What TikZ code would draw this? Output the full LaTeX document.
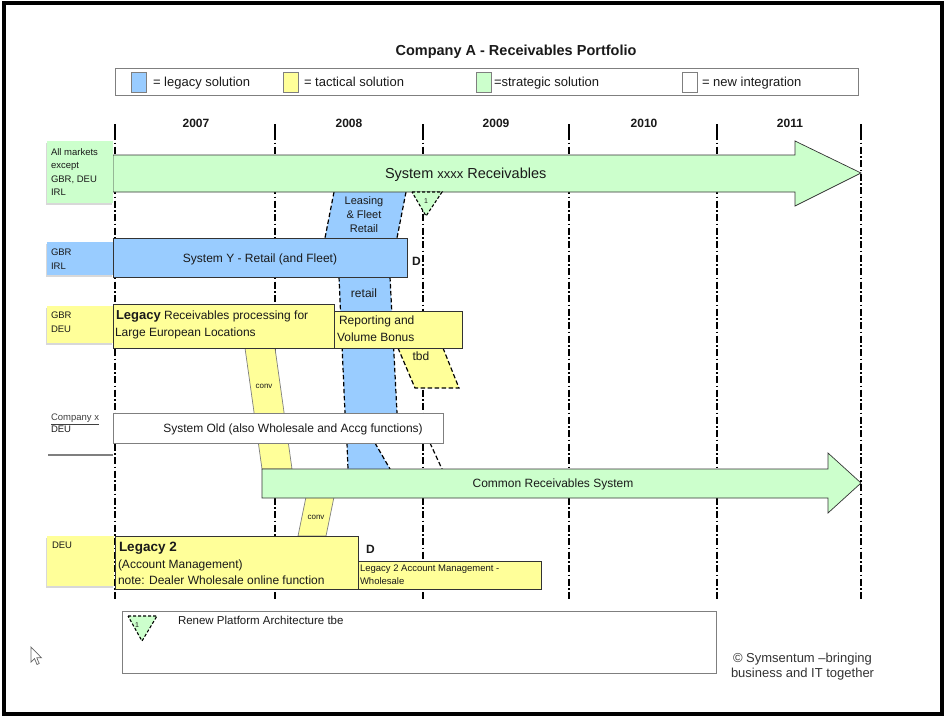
\documentclass[tikz,border=0pt]{standalone}
\usepackage{fontspec}
\setmainfont{Liberation Sans}
\usetikzlibrary{shadows}
\definecolor{lgreen}{HTML}{CCFFCC}
\definecolor{lblue}{HTML}{99CCFF}
\definecolor{lyellow}{HTML}{FFFF99}
\definecolor{edgec}{HTML}{333333}
\definecolor{textc}{HTML}{1A1A1A}
\definecolor{legc}{HTML}{7F7F7F}
\begin{document}
\begin{tikzpicture}[x=1pt,y=-1pt,
 t/.style={inner sep=0pt,outer sep=0pt,text=textc},
 fs/.style n args={2}{font=\fontsize{#1}{#2}\selectfont},
 fb/.style n args={2}{font=\fontsize{#1}{#2}\selectfont\bfseries},
 box/.style={anchor=north west,inner sep=0pt,outer sep=0pt,draw=edgec,line width=0.7pt},
 lbl/.style={anchor=north west,inner sep=0pt,outer sep=0pt,drop shadow={shadow xshift=-1.5pt,shadow yshift=-2pt,opacity=0.3}},
 vline/.style={line width=1.2pt,dash pattern=on 7pt off 2.5pt on 1.5pt off 2.5pt},
 dedge/.style={line width=1.2pt,dash pattern=on 4.5pt off 2.5pt},
 sw/.style={anchor=north west,inner sep=0pt,draw=legc,line width=0.8pt,minimum width=15,minimum height=20}]

\useasboundingbox (0,0) rectangle (946,718);
\fill[white] (0,0) rectangle (946,718);
\draw[line width=4pt] (4,3) rectangle (942,714);

% title and legend
\node[t,fb={14.5}{17},anchor=base] (title) at (516,55) {Company A - Receivables Portfolio};
\node[anchor=north west,inner sep=0pt,draw=legc,line width=1pt,minimum width=743,minimum height=27] (legend) at (115,68) {};
\node[sw,fill=lblue] (swb) at (131,72) {};
\node[t,fs={13}{15},anchor=base west] (lgb) at (153,86.5) {= legacy solution};
\node[sw,fill=lyellow] (swy) at (283,72) {};
\node[t,fs={13}{15},anchor=base west] (lgy) at (304,86.5) {= tactical solution};
\node[sw,fill=lgreen] (swg) at (476,72) {};
\node[t,fs={13}{15},anchor=base west] (lgg) at (494,86.5) {=strategic solution};
\node[sw,fill=white] (sww) at (682,72) {};
\node[t,fs={13}{15},anchor=base west] (lgw) at (702,86.5) {= new integration};

% years
\node[t,fb={12}{14},anchor=base] (y7) at (196,127) {2007};
\node[t,fb={12}{14},anchor=base] (y8) at (349,127) {2008};
\node[t,fb={12}{14},anchor=base] (y9) at (496,127) {2009};
\node[t,fb={12}{14},anchor=base] (y10) at (644,127) {2010};
\node[t,fb={12}{14},anchor=base] (y11) at (790,127) {2011};

% vertical year lines
\foreach \x in {115,275,423,569,717,861}{
  \draw[line width=2.6pt] (\x,124) -- (\x,133);
  \draw[vline] (\x,133) -- (\x,600);
}

% Leasing & Fleet band
\fill[lblue] (334,192) -- (406,192) -- (397,238) -- (325,238) -- cycle;
\draw[dedge] (334,192) -- (325,238);
\draw[dedge] (406,192) -- (397,238);
\node[t,fs={11}{14},anchor=base] (lf1) at (364,204) {Leasing};
\node[t,fs={11}{14},anchor=base] (lf2) at (364,218) {\& Fleet};
\node[t,fs={11}{14},anchor=base] (lf3) at (364,232) {Retail};

% retail band
\fill[lblue] (339,277) -- (390,277) -- (397,413) -- (345,413) -- cycle;
\draw[dedge] (339,277) -- (345,413);
\draw[dedge] (390,277) -- (397,413);
\fill[lblue] (347,443) -- (375,443) -- (390,469) -- (348,469) -- cycle;
\draw[dedge] (347,443) -- (348,469);
\draw[dedge] (375,443) -- (390,469);
\node[t,fs={12}{14},anchor=base] (retail) at (364,297) {retail};

% tbd band
\fill[lyellow] (398,348) -- (443,348) -- (459,388) -- (415,388) -- cycle;
\draw[dedge] (398,348) -- (415,388) -- (459,388) -- (443,348);
\node[t,fs={12}{14},anchor=base] (tbd) at (421,360) {tbd};
\draw[dedge] (430,443) -- (442,469);

% conv bands
\filldraw[fill=lyellow,draw=legc,line width=0.7pt] (245,348) -- (275,348) -- (292,469) -- (262,469) -- cycle;
\node[t,fs={8}{9},anchor=base] (conv1) at (264,388) {conv};
\filldraw[fill=lyellow,draw=legc,line width=0.7pt] (306,497) -- (334,497) -- (326,536) -- (298,536) -- cycle;
\node[t,fs={8}{9},anchor=base] (conv2) at (316,519) {conv};

% System xxxx Receivables arrow
\filldraw[fill=lgreen,draw=edgec,line width=0.7pt] (113,155) -- (795,155) -- (795,141) -- (861,173) -- (795,206) -- (795,192) -- (113,192) -- cycle;
\node[t,fs={14.5}{17},anchor=base west] (sysx) at (385,178) {System {\fontsize{13}{15}\selectfont xxxx} Receivables};
\filldraw[fill=lgreen,draw=black,line width=1.1pt,dash pattern=on 3pt off 2pt] (412,192) -- (442,192) -- (426,216) -- cycle;
\node[t,fs={7}{8},anchor=base] (tri1) at (426,203) {1};

% System Y
\node[box,fill=lblue,minimum width=294,minimum height=39] (sysy) at (113,238) {};
\node[t,fs={12}{14},anchor=base] (sysyt) at (260,262) {System Y - Retail (and Fleet)};
\node[t,fb={12}{14},anchor=base west] (d1) at (412,265.5) {D};

% Legacy
\node[box,fill=lyellow,minimum width=221,minimum height=44] (leg) at (113,304) {};
\node[t,fs={12}{14},anchor=base west] (leg1) at (116,319) {{\fontsize{13}{15}\selectfont\bfseries Legacy} Receivables processing for};
\node[t,fs={12}{14},anchor=base west] (leg2) at (115,336.5) {Large European Locations};

% Reporting
\node[box,fill=lyellow,minimum width=128,minimum height=37] (rep) at (334,311) {};
\node[t,fs={12}{14},anchor=base west] (rep1) at (339,324.5) {Reporting and};
\node[t,fs={12}{14},anchor=base west] (rep2) at (337,341.5) {Volume Bonus};

% System Old
\node[box,fill=white,draw=legc,minimum width=330,minimum height=30] (old) at (113,413) {};
\node[t,fs={12}{14},anchor=base] (oldt) at (293,432.5) {System Old (also Wholesale and Accg functions)};

% Common Receivables System arrow
\filldraw[fill=lgreen,draw=edgec,line width=0.7pt] (262,469) -- (828,469) -- (828,453) -- (861,483) -- (828,513) -- (828,498) -- (262,498) -- cycle;
\node[t,fs={12}{14},anchor=base] (common) at (553,487.5) {Common Receivables System};

% Legacy 2
\node[box,fill=lyellow,minimum width=243,minimum height=53] (leg2b) at (115,536) {};
\node[t,fb={13.5}{16},anchor=base west] (l2a) at (119,551) {Legacy 2};
\node[t,fs={12}{14},anchor=base west] (l2b) at (118,568.5) {(Account Management)};
\node[t,fs={12}{14},anchor=base west] (l2c) at (118,584.5) {note: Dealer Wholesale online function};
\node[t,fb={12}{14},anchor=base west] (d2) at (366,553.5) {D};
\node[box,fill=lyellow,minimum width=183,minimum height=28] (l2w) at (358,561) {};
\node[t,fs={9.5}{11},anchor=base west] (l2w1) at (360,571.5) {Legacy 2 Account Management -};
\node[t,fs={9.5}{11},anchor=base west] (l2w2) at (360,584.5) {Wholesale};

% left market labels
\node[lbl,fill=lgreen,minimum width=66,minimum height=62] (mk1) at (47,141) {};
\node[t,fs={9.5}{12},anchor=base west] (mk1a) at (51,155) {All markets};
\node[t,fs={9.5}{12},anchor=base west] (mk1b) at (51,168.5) {except};
\node[t,fs={9.5}{12},anchor=base west] (mk1c) at (51,182) {GBR, DEU};
\node[t,fs={9.5}{12},anchor=base west] (mk1d) at (51,195.5) {IRL};
\node[lbl,fill=lblue,minimum width=66,minimum height=33] (mk2) at (47,242) {};
\node[t,fs={9.5}{12},anchor=base west] (mk2a) at (51,255.5) {GBR};
\node[t,fs={9.5}{12},anchor=base west] (mk2b) at (51,269.5) {IRL};
\node[lbl,fill=lyellow,minimum width=66,minimum height=37] (mk3) at (47,306) {};
\node[t,fs={9.5}{12},anchor=base west] (mk3a) at (51,318.5) {GBR};
\node[t,fs={9.5}{12},anchor=base west] (mk3b) at (51,332.5) {DEU};
\node[t,fs={9.5}{12},anchor=base west,text=black!75] (mk4a) at (51,420.5) {\underline{Company x}};
\node[t,fs={9.5}{12},anchor=base west] (mk4b) at (51,432.5) {DEU};
\coordinate (mk4l) at (48,455);
\coordinate (mk4r) at (113,455);
\draw[legc,line width=1.2pt] (mk4l) -- (mk4r);
\node[lbl,fill=lyellow,minimum width=67,minimum height=50] (mk5) at (47,536) {};
\node[t,fs={9.5}{12},anchor=base west] (mk5a) at (52,548.5) {DEU};

% bottom note box
\node[box,fill=white,draw=legc,minimum width=594,minimum height=62] (renew) at (122,611) {};
\filldraw[fill=lgreen,draw=black,line width=1.1pt,dash pattern=on 3pt off 2pt] (128,616) -- (157,616) -- (142,641) -- cycle;
\node[t,fs={7}{8},anchor=base] (tri2) at (137,627.5) {1};
\node[t,fs={11.5}{13},anchor=base west] (renewt) at (178,624.5) {Renew Platform Architecture tbe};

% copyright
\node[t,fs={13}{15},anchor=base west,text=black!80] (copy1) at (733,662.5) {© Symsentum –bringing};
\node[t,fs={13}{15},anchor=base west,text=black!80] (copy2) at (731,677.5) {business and IT together};

% mouse cursor
\filldraw[fill=white,draw=black!60,line width=0.7pt] (31,647) -- (31,662) -- (34.5,658.5) -- (37,664.5) -- (39.2,663.5) -- (36.8,657.8) -- (41.5,657.8) -- cycle;
\end{tikzpicture}
\end{document}
